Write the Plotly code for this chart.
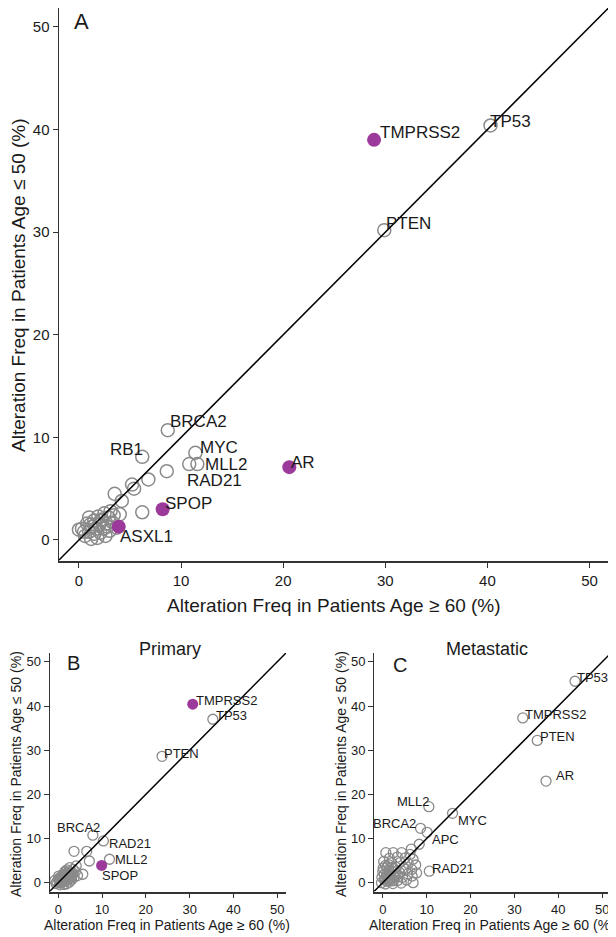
import plotly.graph_objects as go

# ---------------- DATA ----------------
# Panel A (all patients)
a_gray_x = [40.3, 29.9, 8.7, 6.2, 11.4, 11.6, 10.8,
            8.6, 6.8, 5.2, 5.4, 3.5, 4.2, 6.2,
            0.0, 0.3, 0.6, 0.8, 1.0, 1.0, 1.2, 1.3, 1.5, 1.5, 1.7, 1.8, 1.9, 2.0, 2.1,
            2.3, 2.4, 2.5, 2.6, 2.7, 2.9, 3.0, 3.1, 3.3, 3.4, 1.1, 1.6, 2.2, 2.8, 0.5, 4.0, 3.7]
a_gray_y = [40.4, 30.2, 10.7, 8.1, 8.5, 7.4, 7.4,
            6.7, 5.9, 5.4, 5.0, 4.5, 3.8, 2.7,
            1.0, 1.1, 0.4, 1.6, 0.8, 2.2, 0.1, 1.3, 0.6, 1.9, 1.1, 0.2, 2.3, 1.5, 0.7,
            1.9, 1.1, 2.6, 0.4, 1.6, 2.2, 0.9, 2.8, 1.7, 2.4, 1.5, 1.5, 2.0, 1.3, 0.8, 2.5, 1.2]
a_purple_x = [28.9, 20.6, 8.2, 3.9]
a_purple_y = [39.0, 7.1, 3.0, 1.3]

a_labels = ["TP53", "TMPRSS2", "PTEN", "BRCA2", "RB1", "MYC", "MLL2", "RAD21", "AR", "SPOP", "ASXL1"]
a_label_x = [40.3, 28.9, 29.9, 8.7, 6.2, 11.4, 11.6, 10.8, 20.6, 8.2, 3.9]
a_label_y = [40.4, 39.0, 30.2, 10.7, 8.1, 8.5, 7.4, 7.4, 7.1, 3.0, 1.3]

# Panel B (primary)
b_gray_x = [35.3, 23.7, 7.9, 10.3, 11.7,
            3.6, 6.5, 7.1, 5.6,
            -0.3, 0.0, 0.3, 0.5, 0.7, 1.0, 1.0, 1.3, 1.5, 1.6, 1.8, 2.0, 2.1, 2.3, 2.5,
            2.6, 2.8, 3.0, 3.2, 3.4, 3.6, 3.9, 4.1, 4.4, 1.2, 0.4, 2.2, 1.7, 2.9, 0.8,
            0.2, 0.6, 1.1, 1.4, 1.9, 2.4, 2.7, 3.1, 0.9, 1.5, 2.0, -0.5, -0.8, 0.1, 3.3,
            1.2, 1.8, 2.5, 0.4, 1.6]
b_gray_y = [37.0, 28.6, 10.75, 9.45, 5.3,
            7.1, 7.1, 4.9, 1.9,
            0.2, 0.8, 0.0, 1.2, 0.5, 1.8, 0.2, 1.0, 2.4, 0.4, 1.5, 2.9, 0.8, 2.0, 1.3,
            3.4, 2.4, 0.6, 1.8, 3.0, 1.2, 2.5, 3.8, 1.6, 1.4, 0.6, 1.6, 2.0, 1.0, 1.0,
            0.5, 0.9, 0.6, 1.6, 1.1, 0.9, 1.8, 1.4, 1.4, 1.2, 2.2, -0.2, 0.5, 1.5, 2.2,
            -0.4, -0.3, 0.1, -0.5, 2.6]
b_purple_x = [30.7, 9.9]
b_purple_y = [40.4, 3.9]

b_labels = ["TMPRSS2", "TP53", "PTEN", "BRCA2", "RAD21", "MLL2", "SPOP"]
b_label_x = [30.7, 35.3, 23.7, 7.9, 10.3, 11.7, 9.9]
b_label_y = [40.4, 37.0, 28.6, 10.75, 9.45, 5.3, 3.9]

# Panel C (metastatic)
c_gray_x = [43.8, 31.9, 35.2, 37.2, 10.5, 15.9, 8.6, 10.1, 10.6,
            8.3, 6.5, 0.7, 2.4, 4.3, 6.2, 6.9, 6.7, 5.2, 1.5, 3.3, 5.1, 0.2, 2.0, 4.0,
            5.8, 7.5, 1.0, 3.0, 4.8, 6.6, 0.0, 2.0, 3.8, 5.7, 7.7, 0.8, 2.6, 4.5, 1.5,
            3.4, 5.4, 6.9, -0.3, 0.6, 2.3, 4.2, 1.8, 1.2, 3.0,
            0.4, 1.0, 1.6, 2.2, 2.8, 0.3, 0.9, 1.4, 2.5, 3.5, 0.1, 0.6, 1.3, 2.1,
            -0.2, 0.5, 1.1, 1.9]
c_gray_y = [45.6, 37.3, 32.2, 23.0, 17.2, 15.7, 12.3, 11.4, 2.6,
            8.7, 7.6, 6.8, 6.8, 6.8, 6.4, 5.3, 1.5, 3.0, 5.5, 5.8, 5.6, 4.8, 4.5, 4.6,
            4.3, 4.0, 3.6, 3.5, 3.4, 3.0, 2.5, 2.6, 2.3, 2.0, 2.2, 1.4, 1.5, 1.2, 0.4,
            0.5, 0.6, 0.0, 0.0, -0.3, -0.2, -0.1, 2.0, 1.0, 1.8,
            0.6, 0.3, 1.0, 0.4, 1.1, 1.9, 2.1, 2.8, 3.2, 1.3, 3.3, 3.9, 4.1, 3.4,
            1.2, 0.9, 1.7, 0.8]

c_labels = ["TP53", "TMPRSS2", "PTEN", "AR", "MLL2", "MYC", "BRCA2", "APC", "RAD21"]
c_label_x = [43.8, 31.9, 35.2, 37.2, 10.5, 15.9, 8.6, 10.1, 10.6]
c_label_y = [45.6, 37.3, 32.2, 23.0, 17.2, 15.7, 12.3, 11.4, 2.6]

# ---------------- STYLE ----------------
FONT = "Liberation Sans, Arial, Helvetica, sans-serif"
GRAY = "#8a8a8a"
PURPLE = "#9b3a9b"
TXT = "#1a1a1a"
OFF = 8            # default page margin of the html body
W, H = 606, 929


def px(v):
    return min(max((v - OFF) / W, 0), 1)


def py(v):
    return min(max(1 - (v - OFF) / H, 0), 1)


fig = go.Figure()


def gray_trace(x, y, xa, ya, size, lw):
    fig.add_trace(go.Scatter(x=x, y=y, xaxis=xa, yaxis=ya, mode="markers",
                             marker=dict(symbol="circle-open", size=size, color=GRAY,
                                         line=dict(width=lw, color=GRAY)),
                             showlegend=False, hoverinfo="skip"))


def purple_trace(x, y, xa, ya, size):
    fig.add_trace(go.Scatter(x=x, y=y, xaxis=xa, yaxis=ya, mode="markers",
                             marker=dict(symbol="circle", size=size, color=PURPLE,
                                         line=dict(width=0)),
                             showlegend=False, hoverinfo="skip"))


gray_trace(a_gray_x, a_gray_y, "x", "y", 13, 1.5)
purple_trace(a_purple_x, a_purple_y, "x", "y", 14)
gray_trace(b_gray_x, b_gray_y, "x2", "y2", 10, 1.3)
purple_trace(b_purple_x, b_purple_y, "x2", "y2", 11)
gray_trace(c_gray_x, c_gray_y, "x3", "y3", 10, 1.3)

# diagonal y = x lines
for xr, yr, top in [("x", "y", 51.85), ("x2", "y2", 52), ("x3", "y3", 52)]:
    fig.add_shape(type="line", xref=xr, yref=yr, x0=-2, y0=-2, x1=top, y1=top,
                  line=dict(color="black", width=1.5), layer="above")

# label offsets (xanchor, xshift, yshift)
a_off = {"TP53": ("left", -2, 4), "TMPRSS2": ("left", 5, 7), "PTEN": ("left", 1, 7),
         "BRCA2": ("left", 1, 9), "RB1": ("right", 2, 7), "MYC": ("left", 4, 5),
         "MLL2": ("left", 7, 0), "RAD21": ("left", -3, -16), "AR": ("left", 1, 5),
         "SPOP": ("left", 1, 6), "ASXL1": ("left", 0, -10)}
b_off = {"TMPRSS2": ("left", 2, 4), "TP53": ("left", 2, 4), "PTEN": ("left", 1, 3),
         "BRCA2": ("right", 8, 8), "RAD21": ("left", 5, -3), "MLL2": ("left", 4, 0),
         "SPOP": ("left", -1, -10)}
c_off = {"TP53": ("left", 1, 4), "TMPRSS2": ("left", 1, 3), "PTEN": ("left", 2, 4),
         "AR": ("left", 9, 6), "MLL2": ("right", 2, 5), "MYC": ("left", 4, -7),
         "BRCA2": ("right", -4, 5), "APC": ("left", 4, -7), "RAD21": ("left", 2, 3)}


def add_labels(labels, lx, ly, offs, xr, yr, size):
    for t, x, y in zip(labels, lx, ly):
        anc, dx, dy = offs[t]
        fig.add_annotation(x=x, y=y, xref=xr, yref=yr, text=t, showarrow=False,
                           xanchor=anc, yanchor="middle", xshift=dx, yshift=dy,
                           borderpad=0,
                           font=dict(family=FONT, size=size, color=TXT))


add_labels(a_labels, a_label_x, a_label_y, a_off, "x", "y", 17)
add_labels(b_labels, b_label_x, b_label_y, b_off, "x2", "y2", 13)
add_labels(c_labels, c_label_x, c_label_y, c_off, "x3", "y3", 13)


def axis(domain, tick_size, line_w, anchor, rng=(-2, 52)):
    return dict(domain=domain, range=list(rng), tickvals=[0, 10, 20, 30, 40, 50],
                showgrid=False, zeroline=False, showline=True, linecolor="#333333",
                linewidth=line_w, ticks="outside", ticklen=5, tickcolor="#333333",
                tickfont=dict(family=FONT, size=tick_size, color=TXT), anchor=anchor)


fig.update_layout(
    width=W, height=H, margin=dict(l=0, r=0, t=0, b=0),
    paper_bgcolor="white", plot_bgcolor="white",
    xaxis=axis([px(58.5), px(610)], 15, 2, "y"),
    yaxis=axis([py(560.5), py(8)], 15, 1, "x", rng=(-2, 51.85)),
    xaxis2=axis([px(49.5), px(286)], 13, 1.5, "y2"),
    yaxis2=axis([py(891.5), py(653)], 13, 1, "x2"),
    xaxis3=axis([px(374), px(611)], 13, 1.5, "y3"),
    yaxis3=axis([py(891.5), py(653)], 13, 1, "x3"),
)


def paper_text(x, y, text, size, angle=0, xanchor="center"):
    fig.add_annotation(x=px(x), y=py(y), xref="paper", yref="paper", text=text,
                       showarrow=False, textangle=angle, xanchor=xanchor, yanchor="middle",
                       font=dict(family=FONT, size=size, color=TXT))


XT = "Alteration Freq in Patients Age \u2265 60 (%)"
YT = "Alteration Freq in Patients Age \u2264 50 (%)"
paper_text(334, 605, XT, 19)
paper_text(18, 285, YT, 19, angle=-90)
paper_text(167, 925, XT, 14)
paper_text(16, 774, YT, 14, angle=-90)
paper_text(492, 925, XT, 14)
paper_text(341, 774, YT, 14, angle=-90)
paper_text(170, 649, "Primary", 18)
paper_text(487, 649, "Metastatic", 18)
paper_text(72, 22, "A", 22, xanchor="left")
paper_text(65, 663, "B", 20, xanchor="left")
paper_text(391, 665, "C", 20, xanchor="left")

fig.write_html("out.html")
